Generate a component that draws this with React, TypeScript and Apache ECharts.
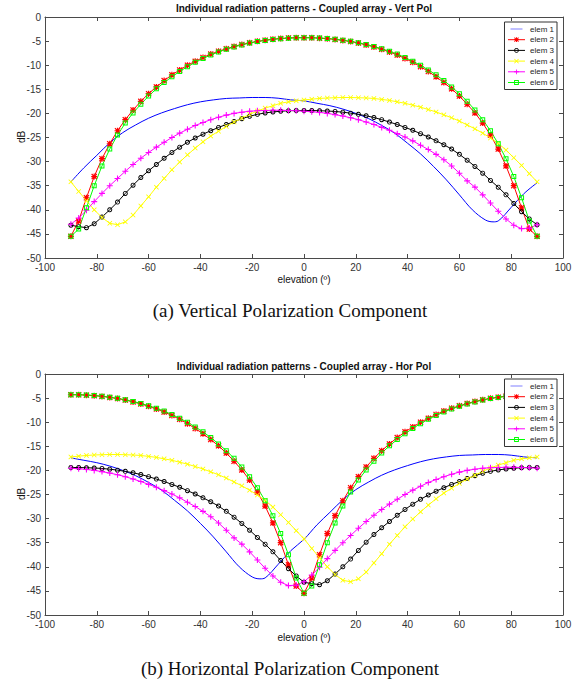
import React, { useEffect, useRef } from "react";
import * as echarts from "echarts";

// ---------- data ----------
const NAMES = ["elem 1", "elem 2", "elem 3", "elem 4", "elem 5", "elem 6"];
const X_TICKS = { min: -100, max: 100, interval: 20 };
const Y_TICKS = { min: -50, max: 0, interval: 5 };

const ANGLES = [
  -90, -87, -84, -81, -78, -75, -72, -69, -66, -63, -60, -57, -54, -51, -48, -45, -42, -39, -36, -33,
  -30, -27, -24, -21, -18, -15, -12, -9, -6, -3, 0, 3, 6, 9, 12, 15, 18, 21, 24, 27, 30, 33, 36, 39,
  42, 45, 48, 51, 54, 57, 60, 63, 66, 69, 72, 75, 78, 81, 84, 87, 90,
];

// (a) Vertical polarization
const V_E1_ANGLES = [
  -90, -85, -80, -75, -70, -65, -60, -55, -50, -45, -40, -35, -30, -25, -20, -15, -10, -5, 0, 5, 10,
  15, 20, 25, 30, 35, 40, 45, 50, 55, 60, 65, 70, 73, 75, 80, 85, 90,
];
const V_ELEM1 = [
  -34.2, -31.3, -28.7, -26.1, -24.0, -22.4, -21.0, -19.9, -19.0, -18.2, -17.6, -17.2, -16.9, -16.8,
  -16.7, -16.7, -16.85, -17.2, -17.4, -17.9, -18.4, -19.1, -20.0, -21.1, -22.5, -24.1, -26.2, -28.4,
  -31.0, -33.8, -36.9, -40.0, -42.1, -42.5, -42.3, -39.5, -36.6, -34.4,
];
const V_ELEM2 = [
  -45.5, -42.3, -37.5, -33.1, -29.4, -26.3, -23.6, -21.3, -19.3, -17.5, -15.9, -14.5, -13.2, -12.0,
  -11.0, -10.0, -9.2, -8.4, -7.7, -7.1, -6.6, -6.1, -5.7, -5.35, -5.05, -4.8, -4.6, -4.45, -4.35,
  -4.3, -4.3, -4.3, -4.4, -4.5, -4.65, -4.85, -5.1, -5.4, -5.8, -6.2, -6.7, -7.25, -7.9, -8.6, -9.4,
  -10.3, -11.3, -12.4, -13.6, -14.9, -16.4, -18.1, -19.9, -22.0, -24.5, -27.4, -30.9, -35.0, -39.6,
  -44.0, -45.5,
];
const V_ELEM3 = [
  -43.2, -43.5, -43.7, -42.9, -41.5, -40.0, -38.4, -36.6, -34.9, -33.3, -31.9, -30.6, -29.3, -28.1,
  -27.0, -26.0, -25.1, -24.3, -23.6, -22.9, -22.3, -21.7, -21.1, -20.6, -20.2, -19.9, -19.7, -19.55,
  -19.45, -19.4, -19.4, -19.4, -19.45, -19.5, -19.6, -19.75, -19.95, -20.2, -20.5, -20.85, -21.3,
  -21.8, -22.3, -22.9, -23.5, -24.2, -24.9, -25.7, -26.5, -27.4, -28.5, -29.7, -31.0, -32.4, -33.9,
  -35.3, -36.9, -38.7, -40.4, -41.9, -43.1,
];
const V_ELEM4 = [
  -34.2, -36.2, -38.1, -40.0, -41.6, -42.8, -43.1, -42.5, -41.1, -39.2, -37.3, -35.3, -33.5, -31.7,
  -30.1, -28.6, -27.2, -25.9, -24.7, -23.7, -22.7, -21.8, -21.0, -20.2, -19.5, -18.9, -18.4, -17.9,
  -17.6, -17.4, -17.2, -17.05, -16.9, -16.8, -16.75, -16.7, -16.7, -16.75, -16.8, -16.9, -17.1,
  -17.3, -17.6, -17.9, -18.3, -18.7, -19.2, -19.7, -20.3, -20.9, -21.6, -22.4, -23.2, -24.1, -25.1,
  -26.2, -27.6, -29.2, -30.8, -32.5, -34.2,
];
const V_ELEM5 = [
  -43.0, -41.7, -40.1, -38.3, -36.6, -35.0, -33.5, -32.0, -30.6, -29.3, -28.1, -27.0, -26.0, -25.0,
  -24.1, -23.3, -22.5, -21.9, -21.3, -20.8, -20.35, -20.0, -19.75, -19.55, -19.45, -19.4, -19.35,
  -19.35, -19.4, -19.45, -19.55, -19.65, -19.8, -20.0, -20.25, -20.55, -20.9, -21.3, -21.8, -22.3,
  -22.9, -23.5, -24.2, -24.9, -25.7, -26.6, -27.5, -28.5, -29.6, -30.9, -32.4, -34.0, -35.3, -36.9,
  -38.6, -40.3, -41.9, -43.2, -43.9, -43.8, -43.1,
];
const V_ELEM6 = [
  -45.5, -44.0, -39.6, -35.0, -30.9, -27.4, -24.5, -22.0, -19.9, -18.1, -16.4, -14.9, -13.6, -12.4,
  -11.3, -10.3, -9.4, -8.6, -7.9, -7.25, -6.7, -6.2, -5.8, -5.4, -5.1, -4.85, -4.65, -4.5, -4.4,
  -4.3, -4.3, -4.3, -4.35, -4.45, -4.6, -4.8, -5.05, -5.35, -5.7, -6.1, -6.6, -7.1, -7.7, -8.4,
  -9.2, -10.0, -11.0, -12.0, -13.2, -14.5, -15.9, -17.5, -19.3, -21.3, -23.6, -26.3, -29.4, -33.1,
  -37.5, -42.3, -45.5,
];

// (b) Horizontal polarization
const H_E1_ANGLES = [
  -90, -85, -80, -75, -70, -65, -60, -55, -50, -45, -40, -35, -30, -25, -20, -17, -15, -10, -5, 0, 5,
  10, 15, 20, 25, 30, 35, 40, 45, 50, 55, 60, 65, 70, 75, 80, 85, 90,
];
const H_ELEM1 = [
  -17.4, -17.9, -18.4, -19.1, -20.0, -21.1, -22.5, -24.1, -26.2, -28.4, -31.0, -33.8, -36.9, -40.0,
  -42.1, -42.5, -42.3, -39.5, -36.6, -34.3, -31.3, -28.7, -26.1, -24.0, -22.4, -21.0, -19.9, -19.0,
  -18.2, -17.6, -17.2, -16.9, -16.8, -16.7, -16.7, -16.85, -17.2, -17.4,
];
const H_ELEM2 = [
  -4.3, -4.3, -4.4, -4.5, -4.65, -4.85, -5.1, -5.4, -5.8, -6.2, -6.7, -7.25, -7.9, -8.6, -9.4, -10.3,
  -11.3, -12.4, -13.6, -14.9, -16.4, -18.1, -19.9, -22.0, -24.5, -27.4, -30.9, -35.0, -39.6, -44.0,
  -45.5, -42.3, -37.5, -33.1, -29.4, -26.3, -23.6, -21.3, -19.3, -17.5, -15.9, -14.5, -13.2, -12.0,
  -11.0, -10.0, -9.2, -8.4, -7.7, -7.1, -6.6, -6.1, -5.7, -5.35, -5.05, -4.8, -4.6, -4.45, -4.35,
  -4.3, -4.3,
];
const H_ELEM3 = [
  -19.4, -19.4, -19.45, -19.5, -19.6, -19.75, -19.95, -20.2, -20.5, -20.85, -21.3, -21.8, -22.3,
  -22.9, -23.5, -24.2, -24.9, -25.7, -26.5, -27.4, -28.5, -29.7, -31.0, -32.4, -33.9, -35.3, -36.9,
  -38.7, -40.4, -41.9, -43.2, -43.5, -43.7, -42.9, -41.5, -40.0, -38.4, -36.6, -34.9, -33.3, -31.9,
  -30.6, -29.3, -28.1, -27.0, -26.0, -25.1, -24.3, -23.6, -22.9, -22.3, -21.7, -21.1, -20.6, -20.2,
  -19.9, -19.7, -19.55, -19.45, -19.4, -19.4,
];
const H_ELEM4 = [
  -17.2, -17.05, -16.9, -16.8, -16.75, -16.7, -16.7, -16.75, -16.8, -16.9, -17.1, -17.3, -17.6,
  -17.9, -18.3, -18.7, -19.2, -19.7, -20.3, -20.9, -21.6, -22.4, -23.2, -24.1, -25.1, -26.2, -27.6,
  -29.2, -30.8, -32.5, -34.2, -36.2, -38.1, -40.0, -41.6, -42.8, -43.1, -42.5, -41.1, -39.2, -37.3,
  -35.3, -33.5, -31.7, -30.1, -28.6, -27.2, -25.9, -24.7, -23.7, -22.7, -21.8, -21.0, -20.2, -19.5,
  -18.9, -18.4, -17.9, -17.6, -17.4, -17.2,
];
const H_ELEM5 = [
  -19.55, -19.65, -19.8, -20.0, -20.25, -20.55, -20.9, -21.3, -21.8, -22.3, -22.9, -23.5, -24.2,
  -24.9, -25.7, -26.6, -27.5, -28.5, -29.6, -30.9, -32.4, -34.0, -35.3, -36.9, -38.6, -40.3, -41.9,
  -43.2, -43.9, -43.8, -43.1, -41.7, -40.1, -38.3, -36.6, -35.0, -33.5, -32.0, -30.6, -29.3, -28.1,
  -27.0, -26.0, -25.0, -24.1, -23.3, -22.5, -21.9, -21.3, -20.8, -20.35, -20.0, -19.75, -19.55,
  -19.45, -19.4, -19.35, -19.35, -19.4, -19.45, -19.55,
];
const H_ELEM6 = [
  -4.3, -4.3, -4.35, -4.45, -4.6, -4.8, -5.05, -5.35, -5.7, -6.1, -6.6, -7.1, -7.7, -8.4, -9.2,
  -10.0, -11.0, -12.0, -13.2, -14.5, -15.9, -17.5, -19.3, -21.3, -23.6, -26.3, -29.4, -33.1, -37.5,
  -42.3, -45.5, -44.0, -39.6, -35.0, -30.9, -27.4, -24.5, -22.0, -19.9, -18.1, -16.4, -14.9, -13.6,
  -12.4, -11.3, -10.3, -9.4, -8.6, -7.9, -7.25, -6.7, -6.2, -5.8, -5.4, -5.1, -4.85, -4.65, -4.5,
  -4.4, -4.3, -4.3,
];

// ---------- styling ----------
const FONT = "'Liberation Sans', Arial, Helvetica, sans-serif";
const SERIF = "'Liberation Serif', 'Times New Roman', serif";
const AXIS_COLOR = "#4a4a4a";
const LABEL_COLOR = "#333333";
const COLORS = ["#0000ff", "#ff0000", "#000000", "#ffff00", "#ff00ff", "#00ff00"];

const SYM_ASTERISK =
  "path://M4,0H6V4H10V6H6V10H4V6H0V4H4Z M0,1.4L1.4,0L5,3.6L8.6,0L10,1.4L6.4,5L10,8.6L8.6,10L5,6.4L1.4,10L0,8.6L3.6,5Z";
const SYM_RING = "path://M5,0A5,5 0 1,1 4.99,0Z M5,1.8A3.2,3.2 0 1,0 5.01,1.8Z";
const SYM_X =
  "path://M0,1.2L1.2,0L5,3.8L8.8,0L10,1.2L6.2,5L10,8.8L8.8,10L5,6.2L1.2,10L0,8.8L3.8,5Z";
const SYM_PLUS = "path://M4.1,0H5.9V4.1H10V5.9H5.9V10H4.1V5.9H0V4.1H4.1Z";
const SYM_SQUARE = "path://M0,0H10V10H0Z M2,2V8H8V2Z";
const SYM_LEGEND_LINE = "path://M0,0L0.01,0L0,0.01Z M0,4.5H20V5.5H0Z M0,10L0.01,10L0,9.99Z";

const SYMBOLS = ["none", SYM_ASTERISK, SYM_RING, SYM_X, SYM_PLUS, SYM_SQUARE];
const SIZES = [0, 6, 5, 5, 6, 5];

const GRID_TOPS = [17, 374];

function pairs(xs: number[], ys: number[]) {
  return xs.map((x, i) => [x, ys[i]]);
}

function makeSeries(g: number, e1x: number[], vals: number[][]) {
  return vals.map((ys, k) => {
    const xs = k === 0 ? e1x : ANGLES;
    return {
      name: NAMES[k],
      type: "line",
      xAxisIndex: g * 2,
      yAxisIndex: g * 2,
      data: pairs(xs, ys),
      symbol: SYMBOLS[k],
      symbolSize: SIZES[k],
      showSymbol: k !== 0,
      smooth: k === 0 ? 0.35 : false,
      lineStyle: { color: COLORS[k], width: 1 },
      itemStyle: { color: COLORS[k], borderWidth: 0 },
      emphasis: { disabled: true },
      silent: true,
    };
  });
}

function axesFor(g: number) {
  const common = {
    type: "value",
    gridIndex: g,
    axisLine: { show: true, onZero: false, lineStyle: { color: AXIS_COLOR, width: 1 } },
    axisTick: { show: true, inside: true, length: 4, lineStyle: { color: AXIS_COLOR } },
    splitLine: { show: false },
  };
  const label = (show: boolean) => ({
    show,
    color: LABEL_COLOR,
    fontSize: 10,
    fontFamily: FONT,
    margin: 4,
  });
  return {
    x: [
      { ...common, position: "bottom", ...X_TICKS, axisLabel: label(true) },
      { ...common, position: "top", ...X_TICKS, axisLabel: label(false) },
    ],
    y: [
      { ...common, position: "left", ...Y_TICKS, axisLabel: label(true) },
      { ...common, position: "right", ...Y_TICKS, axisLabel: label(false) },
    ],
  };
}

function txt(text: string, x: number, y: number, font: string, rotation = 0) {
  return {
    type: "text",
    x,
    y,
    rotation,
    silent: true,
    style: {
      text,
      font,
      fill: "#111",
      align: "center",
      verticalAlign: "middle",
      textAlign: "center",
      textVerticalAlign: "middle",
    },
  };
}

export default function App() {
  const ref = useRef<HTMLDivElement>(null);
  useEffect(() => {
    document.body.style.margin = "0";
    const chart = echarts.init(ref.current!, undefined, { renderer: "svg" });
    const a0 = axesFor(0);
    const a1 = axesFor(1);
    const legend = (top: number) => ({
      orient: "vertical",
      right: 23,
      top,
      itemWidth: 17,
      itemHeight: 6,
      itemGap: 2.7,
      padding: [3, 3, 3, 3],
      backgroundColor: "#fff",
      borderColor: "#333",
      borderWidth: 1,
      borderRadius: 0,
      selectedMode: false,
      lineStyle: { width: 1 },
      itemStyle: { borderWidth: 0 },
      data: NAMES.map((n, i) => (i === 0 ? { name: n, icon: SYM_LEGEND_LINE } : { name: n })),
      textStyle: { fontSize: 8, fontFamily: FONT, color: "#262626", lineHeight: 8 },
    });
    chart.setOption({
      animation: false,
      backgroundColor: "#fff",
      grid: GRID_TOPS.map((t) => ({ left: 45, top: t, width: 518, height: 241 })),
      xAxis: [...a0.x, ...a1.x],
      yAxis: [...a0.y, ...a1.y],
      legend: [legend(22), legend(379)],
      series: [
        ...makeSeries(0, V_E1_ANGLES, [V_ELEM1, V_ELEM2, V_ELEM3, V_ELEM4, V_ELEM5, V_ELEM6]),
        ...makeSeries(1, H_E1_ANGLES, [H_ELEM1, H_ELEM2, H_ELEM3, H_ELEM4, H_ELEM5, H_ELEM6]),
      ],
      graphic: [
        txt("Individual radiation patterns - Coupled array - Vert Pol", 304, 8, `bold 10px ${FONT}`),
        txt("elevation (º)", 304, 279, `10px ${FONT}`),
        txt("dB", 21, 137, `10px ${FONT}`, Math.PI / 2),
        txt("(a) Vertical Polarization Component", 290, 310, `19px ${SERIF}`),
        txt("Individual radiation patterns - Coupled array - Hor Pol", 304, 366, `bold 10px ${FONT}`),
        txt("elevation (º)", 304, 637, `10px ${FONT}`),
        txt("dB", 21, 494, `10px ${FONT}`, Math.PI / 2),
        txt("(b) Horizontal Polarization Component", 290, 668, `19px ${SERIF}`),
      ],
    });
    return () => chart.dispose();
  }, []);
  return <div ref={ref} style={{ width: 580, height: 684, background: "#fff" }} />;
}
